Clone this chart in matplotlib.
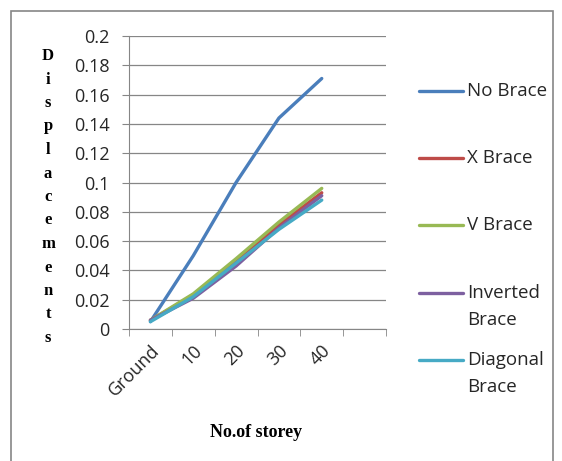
import matplotlib.pyplot as plt
from matplotlib.lines import Line2D
from matplotlib.patches import Rectangle

# data
storeys = ["Ground", "10", "20", "30", "40"]
no_brace = [0.005, 0.050, 0.100, 0.144, 0.171]
x_brace = [0.006, 0.023, 0.046, 0.071, 0.093]
v_brace = [0.006, 0.024, 0.048, 0.073, 0.096]
inverted_brace = [0.006, 0.021, 0.043, 0.069, 0.091]
diagonal_brace = [0.005, 0.022, 0.045, 0.068, 0.088]

series = [
    ("No Brace", no_brace, "#4A7EBB"),
    ("X Brace", x_brace, "#BE4B48"),
    ("V Brace", v_brace, "#98B954"),
    ("Inverted\nBrace", inverted_brace, "#7D60A0"),
    ("Diagonal\nBrace", diagonal_brace, "#46AAC5"),
]

plt.rcParams["font.family"] = ["Open Sans", "DejaVu Sans"]
txt = "#262626"

fig = plt.figure(figsize=(5.62, 4.61), dpi=100)
ax = fig.add_axes([129 / 562, 1 - 329 / 461, 257 / 562, 293 / 461])

xs = list(range(len(storeys)))
for name, vals, col in series:
    ax.plot(xs, vals, color=col, lw=2.4, solid_capstyle="round")

ax.set_xlim(-0.5, 5.5)
ax.set_ylim(0, 0.2)
ax.set_yticks([i * 0.02 for i in range(11)])
ax.set_yticklabels(["0", "0.02", "0.04", "0.06", "0.08", "0.1", "0.12",
                    "0.14", "0.16", "0.18", "0.2"], fontsize=13, color=txt)
ax.set_xticks(xs)
ax.set_xticklabels(storeys, rotation=45, ha="right", rotation_mode="anchor",
                   fontsize=13, color=txt)
ax.tick_params(axis="x", length=0, pad=9)
ax.set_xticks([i - 0.5 for i in range(7)], minor=True)
ax.tick_params(axis="x", which="minor", length=5, color="#868686", direction="out")
ax.tick_params(axis="y", length=5, color="#868686", direction="out", pad=9)

ax.grid(axis="y", color="#868686", lw=0.9)
ax.set_axisbelow(True)
for s in ["top", "right"]:
    ax.spines[s].set_visible(False)
for s in ["left", "bottom"]:
    ax.spines[s].set_color("#868686")

# stacked y label
letters = "Displacements"
for i, ch in enumerate(letters):
    fig.text(48 / 562, 1 - (56 + i * 23.5) / 461, ch, ha="center", va="center",
             family="Liberation Serif", fontweight="bold", fontsize=12)

fig.text(256 / 562, 1 - 432 / 461, "No.of storey", ha="center", va="center",
         family="Liberation Serif", fontweight="bold", fontsize=13)

# legend drawn by hand
legend_y = [91, 158, 225, 293, 360]
for (name, vals, col), ly in zip(series, legend_y):
    fig.add_artist(Line2D([419 / 562, 463 / 562], [1 - ly / 461] * 2,
                          color=col, lw=2.4, solid_capstyle="round"))
    for j, part in enumerate(name.split("\n")):
        fig.text(467 / 562, 1 - (ly + j * 27) / 461, part, ha="left",
                 va="center", fontsize=13.5, color=txt)

# outer border
fig.add_artist(Rectangle((11 / 562, -0.05), 542 / 562, 1.05 - 11 / 461,
                         fill=False, edgecolor="#868686", lw=1.2))

fig.savefig("out.png", dpi=100)
